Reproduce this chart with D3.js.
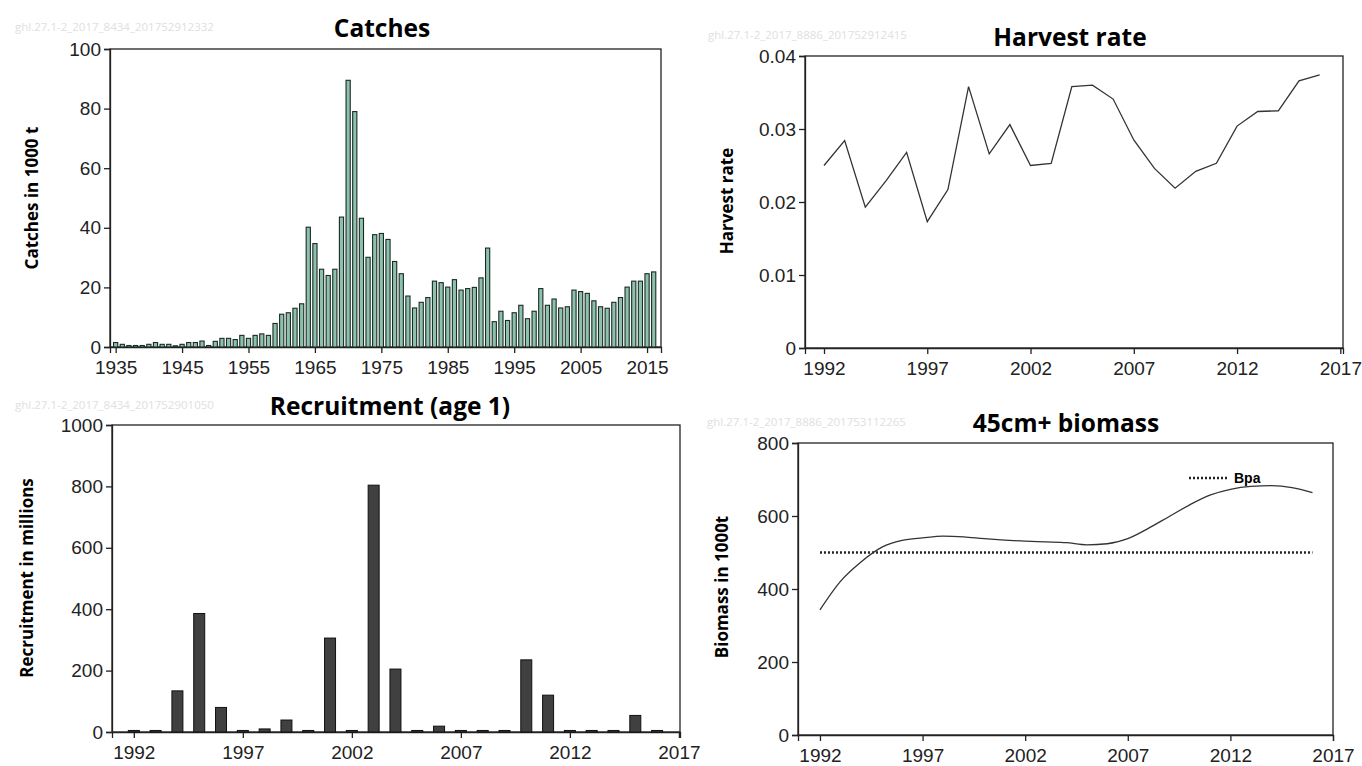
<!DOCTYPE html>
<html><head><meta charset="utf-8">
<script src="https://cdn.jsdelivr.net/npm/d3@7"></script>
<style>
body{margin:0;background:#fff;}
svg{display:block;}
.tick text{font-family:"Liberation Sans Narrow","Liberation Sans",sans-serif;font-size:19px;fill:#222;}
.title{font-family:"Open Sans",sans-serif;font-weight:700;font-size:24.5px;fill:#000;}
.ytitle{font-family:"Open Sans",sans-serif;font-weight:700;font-size:17px;fill:#000;}
.id{font-family:"Open Sans",sans-serif;font-size:11.5px;fill:#e0e0e0;}
</style></head><body>
<svg id="c" width="1362" height="766"></svg>
<script>
// ---------- data ----------
const catchYears = d3.range(1935, 2017);
const catchValues = [1.5,0.9,0.5,0.5,0.5,0.9,1.5,0.9,0.9,0.4,0.9,1.5,1.5,2.0,0.5,1.9,2.9,2.9,2.5,3.9,
  2.9,3.9,4.4,3.9,7.9,11.0,11.5,13.0,14.5,40.2,34.7,26.1,24.0,26.1,43.6,89.5,79.0,43.2,30.1,37.7,
  38.1,36.1,28.7,24.6,17.1,13.1,15.0,16.6,22.1,21.6,20.1,22.6,19.1,19.6,20.0,23.2,33.2,8.5,12.0,8.9,
  11.5,14.0,9.5,12.0,19.6,14.0,16.1,13.1,13.5,19.1,18.6,18.0,15.5,13.5,13.0,15.0,16.6,20.1,22.1,22.1,
  24.6,25.2];
const catchTicks = [1935,1945,1955,1965,1975,1985,1995,2005,2015];
const catchYTicks = [0,20,40,60,80,100];

const hrYears = d3.range(1992, 2017);
const hrValues = [0.0250,0.0284,0.0193,0.0229,0.0268,0.0173,0.0217,0.0358,0.0266,0.0306,0.0250,0.0253,
  0.0358,0.0360,0.0341,0.0285,0.0246,0.0219,0.0242,0.0253,0.0304,0.0324,0.0325,0.0366,0.0374];
const hrYTicks = [0,0.01,0.02,0.03,0.04];

const recYears = d3.range(1992, 2017);
const recValues = [5,5,134,386,80,5,10,39,5,306,5,804,205,5,19,5,5,5,235,120,5,5,5,54,5];
const recYTicks = [0,200,400,600,800,1000];

const bioYears = d3.range(1992, 2017);
const bioValues = [343,421,474,514,533,540,545,543,538,534,531,529,527,521,524,538,566,598,630,657,673,681,683,678,664];
const bpaValue = 500;
const bpaYears = [1992, 2016];
const bioYTicks = [0,200,400,600,800];

const recentTicks = [1992,1997,2002,2007,2012,2017];

const svg = d3.select("#c");

function panel(o){
  const g = svg.append("g");
  const x = d3.scaleLinear().domain(o.xd).range([o.l, o.r]);
  const y = d3.scaleLinear().domain(o.yd).range([o.b, o.t]);
  g.append("rect").attr("x",o.l).attr("y",o.t).attr("width",o.r-o.l).attr("height",o.b-o.t)
    .attr("fill","none").attr("stroke","#222").attr("stroke-width",1.3);
  const xa = g.append("g").attr("transform",`translate(0,${o.b})`)
    .call(d3.axisBottom(x).tickValues(o.xt).tickFormat(d3.format("d")).tickSizeOuter(0).tickSize(6).tickPadding(8));
  const ya = g.append("g").attr("transform",`translate(${o.l},0)`)
    .call(d3.axisLeft(y).tickValues(o.yt).tickFormat(o.yf).tickSizeOuter(0).tickSize(6).tickPadding(3));
  [xa,ya].forEach(a=>{a.select(".domain").attr("stroke","#222").attr("stroke-width",1.3);
    a.selectAll(".tick line").attr("stroke","#222").attr("stroke-width",1.3);});
  g.append("text").attr("class","title").attr("x",o.tx).attr("y",o.ty).attr("text-anchor","middle").text(o.title);
  g.append("text").attr("class","ytitle").attr("transform",`translate(${o.yx},${o.yy}) rotate(-90)`)
    .attr("text-anchor","middle").text(o.ytitle);
  g.append("text").attr("class","id").attr("x",o.idx).attr("y",o.idy).text(o.id);
  return {g,x,y};
}

// Catches
{
  const p = panel({l:110,r:661,t:49,b:347,xd:[1934.15,2017.1],yd:[0,100],xt:catchTicks,yt:catchYTicks,
    yf:d3.format("d"),title:"Catches",tx:382,ty:37,ytitle:"Catches in 1000 t",yx:38,yy:198,
    id:"ghl.27.1-2_2017_8434_201752912332",idx:15,idy:31});
  const w = 4.2;
  p.g.append("g").selectAll("rect").data(catchYears).join("rect")
    .attr("x",(d)=>p.x(d)-w/2).attr("width",w)
    .attr("y",(d,i)=>p.y(catchValues[i])).attr("height",(d,i)=>p.y(0)-p.y(catchValues[i]))
    .attr("fill","#8cc1ad").attr("stroke","#1c2a24").attr("stroke-width",1.1);
}
// Harvest rate
{
  const p = panel({l:805,r:1343,t:56,b:348,xd:[1991.08,2017.13],yd:[0,0.04],xt:recentTicks,yt:hrYTicks,
    yf:(d)=>d===0?"0":d3.format(".2f")(d),title:"Harvest rate",tx:1070,ty:46,ytitle:"Harvest rate",yx:733,yy:201,
    id:"ghl.27.1-2_2017_8886_201752912415",idx:708,idy:39});
  p.g.append("path").datum(hrYears).attr("fill","none").attr("stroke","#333").attr("stroke-width",1.3)
    .attr("d",d3.line().x(d=>p.x(d)).y((d,i)=>p.y(hrValues[i])));
}
// Recruitment
{
  const p = panel({l:112,r:680,t:425,b:732,xd:[1991,2017.05],yd:[0,1000],xt:recentTicks,yt:recYTicks,
    yf:d3.format("d"),title:"Recruitment (age 1)",tx:390,ty:415,ytitle:"Recruitment in millions",yx:33,yy:578,
    id:"ghl.27.1-2_2017_8434_201752901050",idx:15,idy:409});
  const w = 11;
  p.g.append("g").selectAll("rect").data(recYears).join("rect")
    .attr("x",d=>p.x(d)-w/2).attr("width",w)
    .attr("y",(d,i)=>p.y(recValues[i])).attr("height",(d,i)=>p.y(0)-p.y(recValues[i]))
    .attr("fill","#404040").attr("stroke","#111").attr("stroke-width",1);
}
// Biomass
{
  const p = panel({l:798,r:1333,t:443,b:735,xd:[1990.93,2017],yd:[0,800],xt:recentTicks,yt:bioYTicks,
    yf:d3.format("d"),title:"45cm+ biomass",tx:1066,ty:432,ytitle:"Biomass in 1000t",yx:728,yy:587,
    id:"ghl.27.1-2_2017_8886_201753112265",idx:707,idy:426});
  p.g.append("line").attr("x1",p.x(bpaYears[0])).attr("x2",p.x(bpaYears[1]))
    .attr("y1",p.y(bpaValue)).attr("y2",p.y(bpaValue))
    .attr("stroke","#222").attr("stroke-width",2.5).attr("stroke-dasharray","2,2");
  p.g.append("path").datum(bioYears).attr("fill","none").attr("stroke","#333").attr("stroke-width",1.3)
    .attr("d",d3.line().curve(d3.curveMonotoneX).x(d=>p.x(d)).y((d,i)=>p.y(bioValues[i])));
  p.g.append("line").attr("x1",1189).attr("x2",1228).attr("y1",478).attr("y2",478)
    .attr("stroke","#222").attr("stroke-width",2.5).attr("stroke-dasharray","2,2");
  p.g.append("text").attr("x",1234).attr("y",483)
    .style("font-family",'"Liberation Sans Narrow","Liberation Sans",sans-serif').style("font-weight","700")
    .style("font-size","14px").text("Bpa");
}
</script></body></html>
